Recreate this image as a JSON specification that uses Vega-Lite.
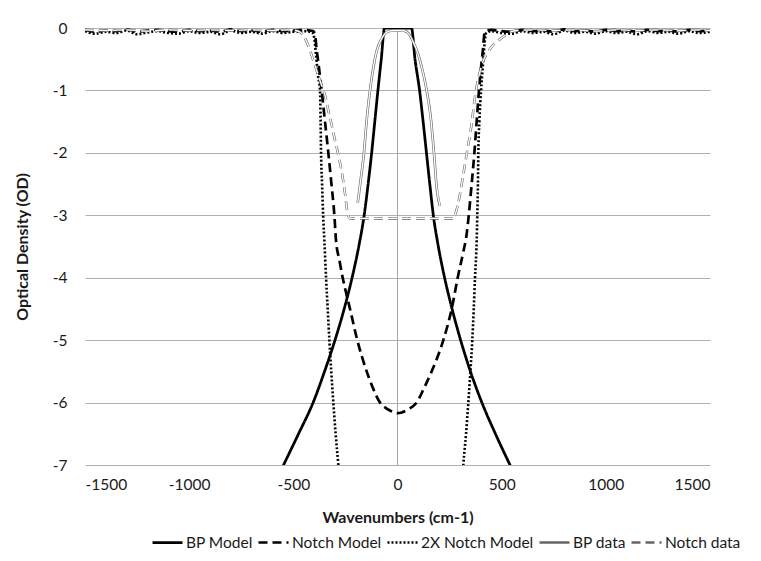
{
  "$schema": "https://vega.github.io/schema/vega-lite/v6.json",
  "autosize": "none",
  "width": 625,
  "height": 437,
  "padding": {"left": 85, "top": 28, "right": 51, "bottom": 96},
  "background": "white",
  "config": {
    "font": "Lato",
    "view": {"stroke": null},
    "axis": {"labelFont": "Lato", "labelFontSize": 15.5, "labelColor": "#1a1a1a", "titleFont": "Lato", "titleFontSize": 16, "titleFontWeight": "bold", "titleColor": "#1a1a1a"},
    "legend": {"labelFont": "Lato", "labelFontSize": 15.5, "labelColor": "#1a1a1a"}
  },
  "datasets": {
    "curves": [
      {"series": "BP Model", "x": -620, "y": -7.5},
      {"series": "BP Model", "x": -547, "y": -7},
      {"series": "BP Model", "x": -475, "y": -6.5},
      {"series": "BP Model", "x": -405, "y": -6},
      {"series": "BP Model", "x": -350, "y": -5.5},
      {"series": "BP Model", "x": -300, "y": -5},
      {"series": "BP Model", "x": -256, "y": -4.5},
      {"series": "BP Model", "x": -218, "y": -4},
      {"series": "BP Model", "x": -186, "y": -3.5},
      {"series": "BP Model", "x": -160, "y": -3},
      {"series": "BP Model", "x": -141, "y": -2.5},
      {"series": "BP Model", "x": -124, "y": -2},
      {"series": "BP Model", "x": -109, "y": -1.5},
      {"series": "BP Model", "x": -94, "y": -1},
      {"series": "BP Model", "x": -78, "y": -0.5},
      {"series": "BP Model", "x": -62, "y": 0},
      {"series": "BP Model", "x": 67, "y": 0},
      {"series": "BP Model", "x": 84, "y": -0.5},
      {"series": "BP Model", "x": 106, "y": -1},
      {"series": "BP Model", "x": 123, "y": -1.5},
      {"series": "BP Model", "x": 139, "y": -2},
      {"series": "BP Model", "x": 155, "y": -2.5},
      {"series": "BP Model", "x": 172, "y": -3},
      {"series": "BP Model", "x": 196, "y": -3.5},
      {"series": "BP Model", "x": 226, "y": -4},
      {"series": "BP Model", "x": 262, "y": -4.5},
      {"series": "BP Model", "x": 303, "y": -5},
      {"series": "BP Model", "x": 350, "y": -5.5},
      {"series": "BP Model", "x": 405, "y": -6},
      {"series": "BP Model", "x": 470, "y": -6.5},
      {"series": "BP Model", "x": 540, "y": -7},
      {"series": "BP Model", "x": 612, "y": -7.5},

      {"series": "Notch Model", "x": -1500, "y": -0.03},
      {"series": "Notch Model", "x": -1450, "y": -0.06},
      {"series": "Notch Model", "x": -1400, "y": -0.04},
      {"series": "Notch Model", "x": -1350, "y": -0.05},
      {"series": "Notch Model", "x": -1300, "y": -0.02},
      {"series": "Notch Model", "x": -1250, "y": -0.06},
      {"series": "Notch Model", "x": -1200, "y": -0.04},
      {"series": "Notch Model", "x": -1150, "y": -0.03},
      {"series": "Notch Model", "x": -1100, "y": -0.05},
      {"series": "Notch Model", "x": -1050, "y": -0.06},
      {"series": "Notch Model", "x": -1000, "y": -0.03},
      {"series": "Notch Model", "x": -950, "y": -0.05},
      {"series": "Notch Model", "x": -900, "y": -0.04},
      {"series": "Notch Model", "x": -850, "y": -0.06},
      {"series": "Notch Model", "x": -800, "y": -0.02},
      {"series": "Notch Model", "x": -750, "y": -0.05},
      {"series": "Notch Model", "x": -700, "y": -0.04},
      {"series": "Notch Model", "x": -650, "y": -0.06},
      {"series": "Notch Model", "x": -600, "y": -0.03},
      {"series": "Notch Model", "x": -550, "y": -0.05},
      {"series": "Notch Model", "x": -500, "y": -0.04},
      {"series": "Notch Model", "x": -450, "y": -0.03},
      {"series": "Notch Model", "x": -405, "y": -0.05},
      {"series": "Notch Model", "x": -396, "y": -0.1},
      {"series": "Notch Model", "x": -388, "y": -0.35},
      {"series": "Notch Model", "x": -380, "y": -0.55},
      {"series": "Notch Model", "x": -372, "y": -0.78},
      {"series": "Notch Model", "x": -364, "y": -1.0},
      {"series": "Notch Model", "x": -348, "y": -1.5},
      {"series": "Notch Model", "x": -332, "y": -2.0},
      {"series": "Notch Model", "x": -317, "y": -2.5},
      {"series": "Notch Model", "x": -303, "y": -3.0},
      {"series": "Notch Model", "x": -295, "y": -3.41},
      {"series": "Notch Model", "x": -280, "y": -3.7},
      {"series": "Notch Model", "x": -263, "y": -4.0},
      {"series": "Notch Model", "x": -228, "y": -4.5},
      {"series": "Notch Model", "x": -193, "y": -5.0},
      {"series": "Notch Model", "x": -148, "y": -5.5},
      {"series": "Notch Model", "x": -120, "y": -5.75},
      {"series": "Notch Model", "x": -84, "y": -6.0},
      {"series": "Notch Model", "x": -50, "y": -6.1},
      {"series": "Notch Model", "x": -20, "y": -6.15},
      {"series": "Notch Model", "x": 0, "y": -6.17},
      {"series": "Notch Model", "x": 20, "y": -6.16},
      {"series": "Notch Model", "x": 50, "y": -6.11},
      {"series": "Notch Model", "x": 92, "y": -6.0},
      {"series": "Notch Model", "x": 130, "y": -5.75},
      {"series": "Notch Model", "x": 164, "y": -5.5},
      {"series": "Notch Model", "x": 220, "y": -5.0},
      {"series": "Notch Model", "x": 260, "y": -4.5},
      {"series": "Notch Model", "x": 289, "y": -4.0},
      {"series": "Notch Model", "x": 315, "y": -3.6},
      {"series": "Notch Model", "x": 332, "y": -3.3},
      {"series": "Notch Model", "x": 342, "y": -3.0},
      {"series": "Notch Model", "x": 356, "y": -2.5},
      {"series": "Notch Model", "x": 369, "y": -2.0},
      {"series": "Notch Model", "x": 380, "y": -1.5},
      {"series": "Notch Model", "x": 391, "y": -1.0},
      {"series": "Notch Model", "x": 402, "y": -0.6},
      {"series": "Notch Model", "x": 410, "y": -0.35},
      {"series": "Notch Model", "x": 416, "y": -0.12},
      {"series": "Notch Model", "x": 422, "y": -0.05},
      {"series": "Notch Model", "x": 450, "y": -0.03},
      {"series": "Notch Model", "x": 500, "y": -0.05},
      {"series": "Notch Model", "x": 550, "y": -0.06},
      {"series": "Notch Model", "x": 600, "y": -0.03},
      {"series": "Notch Model", "x": 650, "y": -0.05},
      {"series": "Notch Model", "x": 700, "y": -0.04},
      {"series": "Notch Model", "x": 750, "y": -0.06},
      {"series": "Notch Model", "x": 800, "y": -0.02},
      {"series": "Notch Model", "x": 850, "y": -0.05},
      {"series": "Notch Model", "x": 900, "y": -0.04},
      {"series": "Notch Model", "x": 950, "y": -0.06},
      {"series": "Notch Model", "x": 1000, "y": -0.03},
      {"series": "Notch Model", "x": 1050, "y": -0.05},
      {"series": "Notch Model", "x": 1100, "y": -0.04},
      {"series": "Notch Model", "x": 1150, "y": -0.06},
      {"series": "Notch Model", "x": 1200, "y": -0.03},
      {"series": "Notch Model", "x": 1250, "y": -0.05},
      {"series": "Notch Model", "x": 1300, "y": -0.04},
      {"series": "Notch Model", "x": 1350, "y": -0.06},
      {"series": "Notch Model", "x": 1400, "y": -0.03},
      {"series": "Notch Model", "x": 1450, "y": -0.05},
      {"series": "Notch Model", "x": 1500, "y": -0.04},

      {"series": "2X Notch Model", "x": -1500, "y": -0.05},
      {"series": "2X Notch Model", "x": -1450, "y": -0.09},
      {"series": "2X Notch Model", "x": -1400, "y": -0.06},
      {"series": "2X Notch Model", "x": -1350, "y": -0.08},
      {"series": "2X Notch Model", "x": -1300, "y": -0.04},
      {"series": "2X Notch Model", "x": -1250, "y": -0.1},
      {"series": "2X Notch Model", "x": -1200, "y": -0.07},
      {"series": "2X Notch Model", "x": -1150, "y": -0.05},
      {"series": "2X Notch Model", "x": -1100, "y": -0.08},
      {"series": "2X Notch Model", "x": -1050, "y": -0.09},
      {"series": "2X Notch Model", "x": -1000, "y": -0.05},
      {"series": "2X Notch Model", "x": -950, "y": -0.08},
      {"series": "2X Notch Model", "x": -900, "y": -0.06},
      {"series": "2X Notch Model", "x": -850, "y": -0.1},
      {"series": "2X Notch Model", "x": -800, "y": -0.04},
      {"series": "2X Notch Model", "x": -750, "y": -0.08},
      {"series": "2X Notch Model", "x": -700, "y": -0.06},
      {"series": "2X Notch Model", "x": -650, "y": -0.09},
      {"series": "2X Notch Model", "x": -600, "y": -0.05},
      {"series": "2X Notch Model", "x": -550, "y": -0.08},
      {"series": "2X Notch Model", "x": -500, "y": -0.06},
      {"series": "2X Notch Model", "x": -450, "y": -0.05},
      {"series": "2X Notch Model", "x": -410, "y": -0.07},
      {"series": "2X Notch Model", "x": -400, "y": -0.15},
      {"series": "2X Notch Model", "x": -392, "y": -0.4},
      {"series": "2X Notch Model", "x": -382, "y": -0.75},
      {"series": "2X Notch Model", "x": -372, "y": -1.0},
      {"series": "2X Notch Model", "x": -369, "y": -1.5},
      {"series": "2X Notch Model", "x": -367, "y": -2.0},
      {"series": "2X Notch Model", "x": -362, "y": -2.5},
      {"series": "2X Notch Model", "x": -357, "y": -3.0},
      {"series": "2X Notch Model", "x": -351, "y": -3.41},
      {"series": "2X Notch Model", "x": -343, "y": -4.0},
      {"series": "2X Notch Model", "x": -335, "y": -4.5},
      {"series": "2X Notch Model", "x": -327, "y": -5.0},
      {"series": "2X Notch Model", "x": -318, "y": -5.5},
      {"series": "2X Notch Model", "x": -308, "y": -6.0},
      {"series": "2X Notch Model", "x": -297, "y": -6.5},
      {"series": "2X Notch Model", "x": -284, "y": -7.0},
      {"series": "2X Notch Model", "x": -270, "y": -7.6},
      {"series": "2X Notch Model", "x": 305, "y": -7.6},
      {"series": "2X Notch Model", "x": 316, "y": -7.0},
      {"series": "2X Notch Model", "x": 329, "y": -6.5},
      {"series": "2X Notch Model", "x": 340, "y": -6.0},
      {"series": "2X Notch Model", "x": 350, "y": -5.5},
      {"series": "2X Notch Model", "x": 359, "y": -5.0},
      {"series": "2X Notch Model", "x": 366, "y": -4.5},
      {"series": "2X Notch Model", "x": 372, "y": -4.0},
      {"series": "2X Notch Model", "x": 380, "y": -3.41},
      {"series": "2X Notch Model", "x": 383, "y": -3.0},
      {"series": "2X Notch Model", "x": 386, "y": -2.5},
      {"series": "2X Notch Model", "x": 388, "y": -2.0},
      {"series": "2X Notch Model", "x": 393, "y": -1.5},
      {"series": "2X Notch Model", "x": 401, "y": -1.0},
      {"series": "2X Notch Model", "x": 410, "y": -0.6},
      {"series": "2X Notch Model", "x": 418, "y": -0.25},
      {"series": "2X Notch Model", "x": 424, "y": -0.09},
      {"series": "2X Notch Model", "x": 450, "y": -0.05},
      {"series": "2X Notch Model", "x": 500, "y": -0.08},
      {"series": "2X Notch Model", "x": 550, "y": -0.09},
      {"series": "2X Notch Model", "x": 600, "y": -0.05},
      {"series": "2X Notch Model", "x": 650, "y": -0.08},
      {"series": "2X Notch Model", "x": 700, "y": -0.06},
      {"series": "2X Notch Model", "x": 750, "y": -0.1},
      {"series": "2X Notch Model", "x": 800, "y": -0.04},
      {"series": "2X Notch Model", "x": 850, "y": -0.08},
      {"series": "2X Notch Model", "x": 900, "y": -0.06},
      {"series": "2X Notch Model", "x": 950, "y": -0.09},
      {"series": "2X Notch Model", "x": 1000, "y": -0.05},
      {"series": "2X Notch Model", "x": 1050, "y": -0.08},
      {"series": "2X Notch Model", "x": 1100, "y": -0.06},
      {"series": "2X Notch Model", "x": 1150, "y": -0.1},
      {"series": "2X Notch Model", "x": 1200, "y": -0.05},
      {"series": "2X Notch Model", "x": 1250, "y": -0.08},
      {"series": "2X Notch Model", "x": 1300, "y": -0.06},
      {"series": "2X Notch Model", "x": 1350, "y": -0.09},
      {"series": "2X Notch Model", "x": 1400, "y": -0.05},
      {"series": "2X Notch Model", "x": 1450, "y": -0.08},
      {"series": "2X Notch Model", "x": 1500, "y": -0.06},

      {"series": "BP data", "x": -191, "y": -2.8},
      {"series": "BP data", "x": -177, "y": -2.44},
      {"series": "BP data", "x": -161, "y": -2.0},
      {"series": "BP data", "x": -148, "y": -1.48},
      {"series": "BP data", "x": -132, "y": -1.0},
      {"series": "BP data", "x": -115, "y": -0.62},
      {"series": "BP data", "x": -103, "y": -0.41},
      {"series": "BP data", "x": -90, "y": -0.27},
      {"series": "BP data", "x": -79, "y": -0.19},
      {"series": "BP data", "x": -60, "y": -0.09},
      {"series": "BP data", "x": -40, "y": -0.05},
      {"series": "BP data", "x": -20, "y": -0.04},
      {"series": "BP data", "x": 0, "y": -0.04},
      {"series": "BP data", "x": 20, "y": -0.04},
      {"series": "BP data", "x": 44, "y": -0.06},
      {"series": "BP data", "x": 60, "y": -0.12},
      {"series": "BP data", "x": 75, "y": -0.22},
      {"series": "BP data", "x": 98, "y": -0.41},
      {"series": "BP data", "x": 120, "y": -0.68},
      {"series": "BP data", "x": 140, "y": -1.0},
      {"series": "BP data", "x": 161, "y": -1.48},
      {"series": "BP data", "x": 175, "y": -2.0},
      {"series": "BP data", "x": 188, "y": -2.55},
      {"series": "BP data", "x": 204, "y": -2.85},

      {"series": "Notch data", "x": -1500, "y": -0.03},
      {"series": "Notch data", "x": -1400, "y": -0.04},
      {"series": "Notch data", "x": -1300, "y": -0.03},
      {"series": "Notch data", "x": -1200, "y": -0.05},
      {"series": "Notch data", "x": -1100, "y": -0.03},
      {"series": "Notch data", "x": -1000, "y": -0.04},
      {"series": "Notch data", "x": -900, "y": -0.03},
      {"series": "Notch data", "x": -800, "y": -0.04},
      {"series": "Notch data", "x": -700, "y": -0.03},
      {"series": "Notch data", "x": -600, "y": -0.04},
      {"series": "Notch data", "x": -530, "y": -0.03},
      {"series": "Notch data", "x": -490, "y": -0.04},
      {"series": "Notch data", "x": -470, "y": -0.06},
      {"series": "Notch data", "x": -452, "y": -0.12},
      {"series": "Notch data", "x": -436, "y": -0.22},
      {"series": "Notch data", "x": -420, "y": -0.36},
      {"series": "Notch data", "x": -404, "y": -0.52},
      {"series": "Notch data", "x": -388, "y": -0.68},
      {"series": "Notch data", "x": -368, "y": -0.88},
      {"series": "Notch data", "x": -348, "y": -1.08},
      {"series": "Notch data", "x": -330, "y": -1.35},
      {"series": "Notch data", "x": -316, "y": -1.55},
      {"series": "Notch data", "x": -300, "y": -1.8},
      {"series": "Notch data", "x": -286, "y": -2.0},
      {"series": "Notch data", "x": -268, "y": -2.3},
      {"series": "Notch data", "x": -252, "y": -2.65},
      {"series": "Notch data", "x": -239, "y": -2.98},
      {"series": "Notch data", "x": -228, "y": -3.05},
      {"series": "Notch data", "x": 0, "y": -3.05},
      {"series": "Notch data", "x": 270, "y": -3.05},
      {"series": "Notch data", "x": 278, "y": -2.98},
      {"series": "Notch data", "x": 300, "y": -2.66},
      {"series": "Notch data", "x": 316, "y": -2.34},
      {"series": "Notch data", "x": 332, "y": -2.02},
      {"series": "Notch data", "x": 356, "y": -1.53},
      {"series": "Notch data", "x": 372, "y": -1.1},
      {"series": "Notch data", "x": 390, "y": -0.78},
      {"series": "Notch data", "x": 412, "y": -0.52},
      {"series": "Notch data", "x": 432, "y": -0.4},
      {"series": "Notch data", "x": 452, "y": -0.3},
      {"series": "Notch data", "x": 484, "y": -0.2},
      {"series": "Notch data", "x": 516, "y": -0.12},
      {"series": "Notch data", "x": 545, "y": -0.06},
      {"series": "Notch data", "x": 575, "y": -0.04},
      {"series": "Notch data", "x": 650, "y": -0.03},
      {"series": "Notch data", "x": 750, "y": -0.04},
      {"series": "Notch data", "x": 850, "y": -0.03},
      {"series": "Notch data", "x": 950, "y": -0.05},
      {"series": "Notch data", "x": 1050, "y": -0.03},
      {"series": "Notch data", "x": 1150, "y": -0.04},
      {"series": "Notch data", "x": 1250, "y": -0.03},
      {"series": "Notch data", "x": 1350, "y": -0.04},
      {"series": "Notch data", "x": 1450, "y": -0.03},
      {"series": "Notch data", "x": 1500, "y": -0.04}
    ],
    "zero": [{"x": 0}]
  },
  "layer": [
    {
      "data": {"name": "zero"},
      "mark": {"type": "rule", "color": "#a6a6a6", "strokeWidth": 1},
      "encoding": {"x": {"field": "x", "type": "quantitative", "scale": {"domain": [-1500, 1500]}}}
    },
    {
      "data": {"name": "curves"},
      "mark": {"type": "line", "clip": true, "strokeJoin": "round", "interpolate": "monotone"},
      "encoding": {
        "x": {
          "field": "x", "type": "quantitative",
          "scale": {"domain": [-1500, 1500], "nice": false},
          "axis": {"values": [-1500, -1000, -500, 0, 500, 1000, 1500], "labelExpr": "datum.value + ''", "grid": false, "ticks": false, "domain": false, "labelPadding": 12, "title": "Wavenumbers (cm-1)", "titlePadding": 17}
        },
        "y": {
          "field": "y", "type": "quantitative",
          "scale": {"domain": [-7, 0], "nice": false, "zero": false},
          "axis": {"values": [0, -1, -2, -3, -4, -5, -6, -7], "labelExpr": "datum.value + ''", "grid": true, "gridColor": "#b0b0b0", "gridWidth": 1, "ticks": false, "domain": false, "labelPadding": 18, "title": "Optical Density (OD)", "titlePadding": 22}
        },
        "color": {
          "field": "series", "type": "nominal",
          "scale": {"domain": ["BP Model", "Notch Model", "2X Notch Model", "BP data", "Notch data"], "range": ["#000000", "#000000", "#000000", "#666666", "#666666"]},
          "legend": {"title": null, "orient": "none", "legendX": 66, "legendY": 498, "direction": "horizontal", "symbolType": "stroke", "symbolSize": 900, "columnPadding": 0, "labelOffset": 2}
        },
        "strokeDash": {
          "field": "series", "type": "nominal",
          "scale": {"domain": ["BP Model", "Notch Model", "2X Notch Model", "BP data", "Notch data"], "range": [[1, 0], [9, 5], [2, 2], [1, 0], [9, 5]]},
          "legend": {"title": null, "orient": "none", "legendX": 66, "legendY": 498, "direction": "horizontal", "symbolType": "stroke", "symbolSize": 900, "columnPadding": 0, "labelOffset": 2}
        },
        "strokeWidth": {
          "field": "series", "type": "nominal",
          "scale": {"domain": ["BP Model", "Notch Model", "2X Notch Model", "BP data", "Notch data"], "range": [2.75, 2.5, 2, 4.3, 4.3]},
          "legend": {"title": null, "orient": "none", "legendX": 66, "legendY": 498, "direction": "horizontal", "symbolType": "stroke", "symbolSize": 900, "columnPadding": 0, "labelOffset": 2}
        }
      }
    },
    {
      "data": {"name": "curves"},
      "transform": [{"filter": "datum.series === 'BP data'"}],
      "mark": {"type": "line", "clip": true, "color": "white", "strokeWidth": 1.3, "interpolate": "monotone"},
      "encoding": {
        "x": {"field": "x", "type": "quantitative"},
        "y": {"field": "y", "type": "quantitative"}
      }
    },
    {
      "data": {"name": "curves"},
      "transform": [{"filter": "datum.series === 'Notch data'"}],
      "mark": {"type": "line", "clip": true, "color": "white", "strokeWidth": 1.3, "strokeDash": [9, 5], "interpolate": "monotone"},
      "encoding": {
        "x": {"field": "x", "type": "quantitative"},
        "y": {"field": "y", "type": "quantitative"}
      }
    }
  ]
}
